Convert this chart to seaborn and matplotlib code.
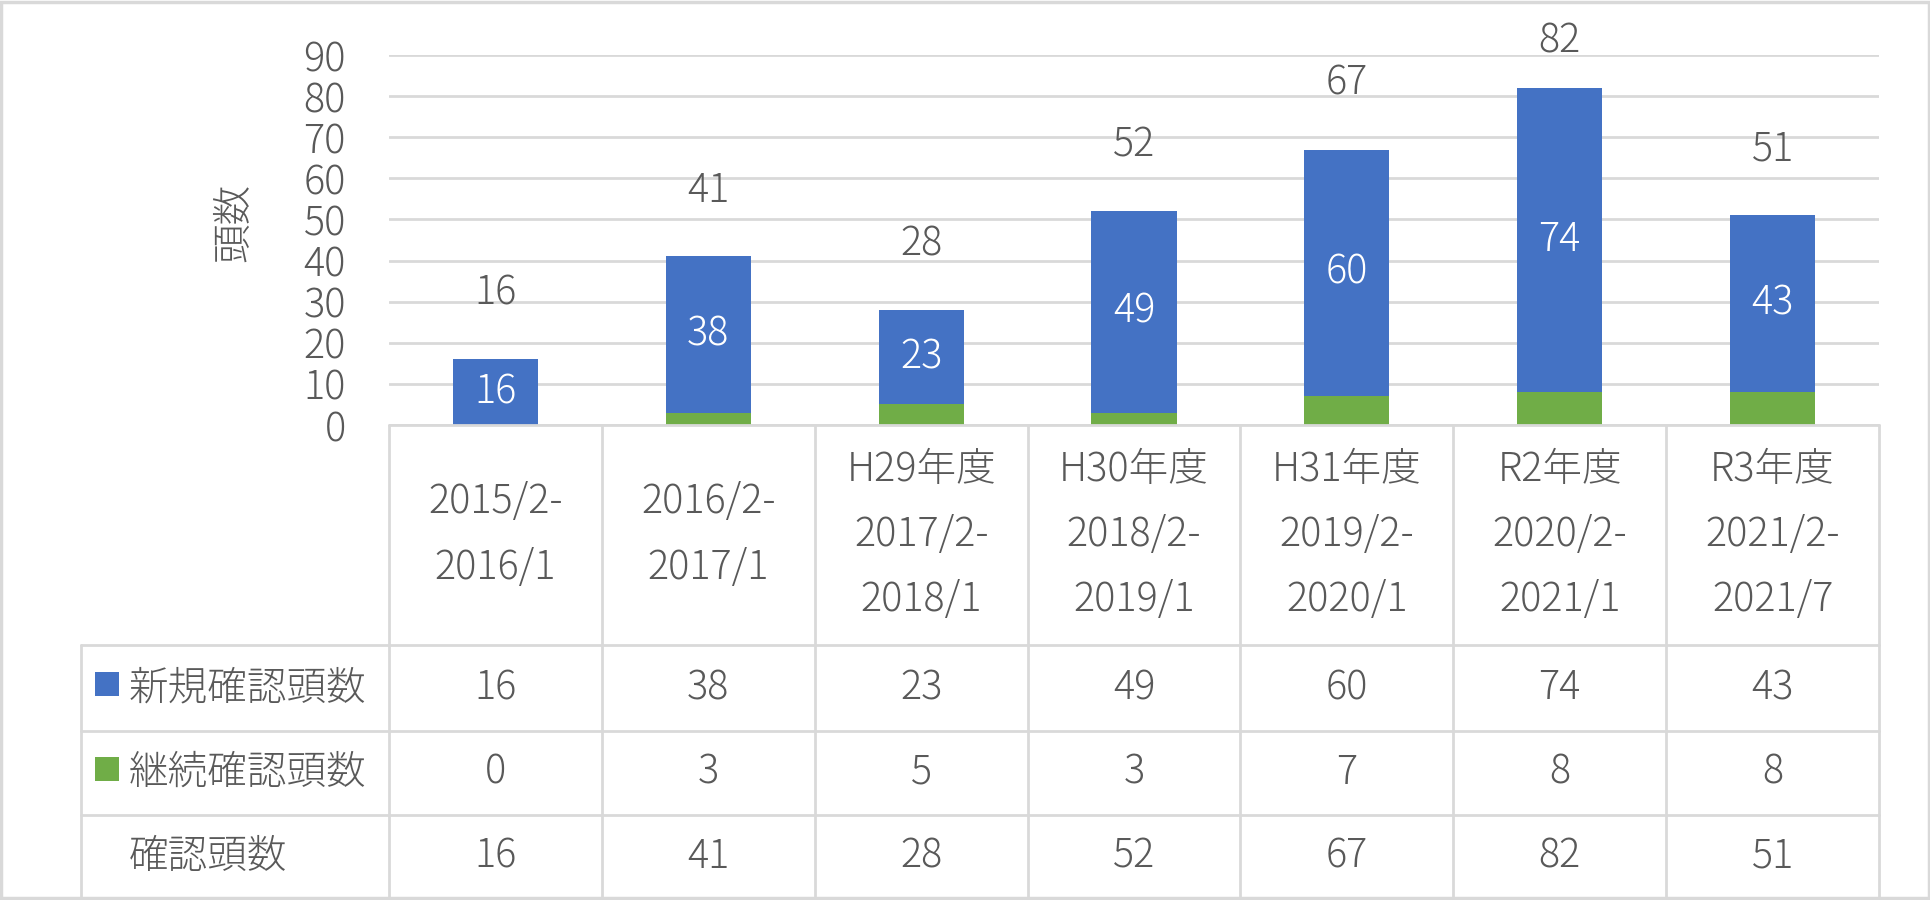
import numpy as np
import pandas as pd
import matplotlib.pyplot as plt
import seaborn as sns
from matplotlib.lines import Line2D
from matplotlib.patches import Rectangle
from matplotlib.transforms import blended_transform_factory

# --------------------------
# Data
# --------------------------
categories = ["2015/2-\n2016/1", "2016/2-\n2017/1",
              "H29年度\n2017/2-\n2018/1", "H30年度\n2018/2-\n2019/1",
              "H31年度\n2019/2-\n2020/1", "R2年度\n2020/2-\n2021/1",
              "R3年度\n2021/2-\n2021/7"]
new_counts = [16, 38, 23, 49, 60, 74, 43]
cont_counts = [0, 3, 5, 3, 7, 8, 8]
total_counts = [16, 41, 28, 52, 67, 82, 51]
series_names = ["新規確認頭数", "継続確認頭数", "確認頭数"]
y_label = "頭数"
y_ticks = list(range(0, 91, 10))

df = pd.DataFrame({"cat": categories, "new": new_counts,
                   "cont": cont_counts, "total": total_counts})

# --------------------------
# Style
# --------------------------
sns.set_theme(style="white")
plt.rcParams['font.family'] = ['Noto Sans CJK JP', 'DejaVu Sans']
plt.rcParams['font.weight'] = 'light'

BLUE = "#4472C4"
GREEN = "#70AD47"
TXT = "#595959"
LINE = "#D9D9D9"
FS = 28.5

W, H = 1931, 900
def fx(px):
    return px / W
def fy(py):
    return 1 - py / H

fig = plt.figure(figsize=(W / 100, H / 100), dpi=100)
ax_l, ax_r, ax_t, ax_b = 389, 1879, 55, 425
ax = fig.add_axes([fx(ax_l), fy(ax_b), fx(ax_r) - fx(ax_l), fy(ax_t) - fy(ax_b)])

# stacked bars: full height in blue, green base drawn over it
sns.barplot(data=df, x="cat", y="total", color=BLUE, saturation=1,
            width=0.4, linewidth=0, ax=ax)
sns.barplot(data=df, x="cat", y="cont", color=GREEN, saturation=1,
            width=0.4, linewidth=0, ax=ax)

ax.set_xlim(-0.5, len(categories) - 0.5)
ax.set_ylim(0, 90)
ax.set_yticks(y_ticks)
ax.set_xticks([])
ax.set_xlabel("")
ax.set_ylabel("")
ax.tick_params(axis="y", length=0, pad=31, labelsize=FS, labelcolor=TXT)
ax.yaxis.grid(True, color=LINE, linewidth=2)
ax.set_axisbelow(True)
for s in ax.spines.values():
    s.set_visible(False)

# value labels
for i, row in df.iterrows():
    ax.text(i, row["cont"] + row["new"] / 2, str(row["new"]), ha="center",
            va="center", color="white", fontsize=FS)
    ax.text(i, min(row["total"] + 16, 93.3), str(row["total"]), ha="center",
            va="center", color=TXT, fontsize=FS, clip_on=False)

fig.text(fx(234), fy(222), y_label, rotation=90, ha="center", va="center",
         color=TXT, fontsize=FS)

# --------------------------
# Data table below the axis
# --------------------------
tr = blended_transform_factory(ax.transData, fig.transFigure)
row_lines = [645, 731, 815, 899]
row_centers = [688, 773, 857]

fig.add_artist(Line2D([fx(ax_l), fx(ax_r)], [fy(ax_b), fy(ax_b)], color=LINE, lw=2))
for yl in row_lines:
    fig.add_artist(Line2D([fx(81), fx(ax_r)], [fy(yl), fy(yl)], color=LINE, lw=2))
fig.add_artist(Line2D([fx(81), fx(81)], [fy(645), fy(899)], color=LINE, lw=2))
for k in range(len(categories) + 1):
    fig.add_artist(Line2D([k - 0.5, k - 0.5], [fy(ax_b), fy(899)], color=LINE,
                          lw=2, transform=tr))

for i, row in df.iterrows():
    fig.text(i, fy(535), row["cat"], ha="center", va="center", color=TXT,
             fontsize=FS, linespacing=1.72, transform=tr)
    for yc, key in zip(row_centers, ["new", "cont", "total"]):
        fig.text(i, fy(yc), str(row[key]), ha="center", va="center",
                 color=TXT, fontsize=FS, transform=tr)

for yc, name, col in zip(row_centers, series_names, [BLUE, GREEN, None]):
    if col is not None:
        fig.add_artist(Rectangle((fx(95), fy(yc + 8)), fx(24), 24 / H,
                                 facecolor=col, edgecolor="none"))
    fig.text(fx(129), fy(yc), name, ha="left", va="center", color=TXT,
             fontsize=FS)

# chart border
fig.add_artist(Rectangle((fx(1), fy(898)), fx(1928), 896 / H, fill=False,
                         edgecolor=LINE, lw=2.5))

fig.savefig("out.png", dpi=100)
